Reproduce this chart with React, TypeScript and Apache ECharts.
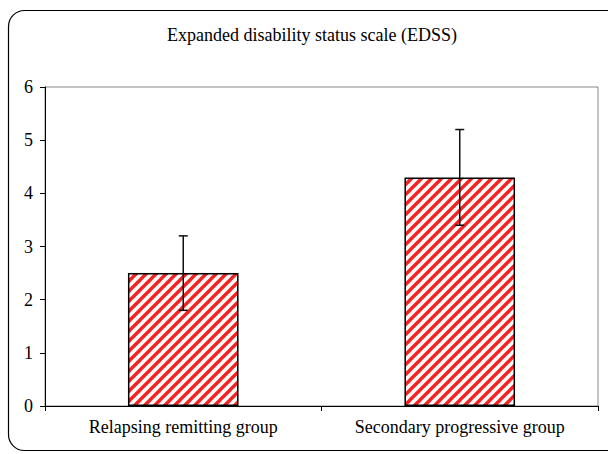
import React, { useEffect, useRef } from "react";
import * as echarts from "echarts";

const categories = ["Relapsing remitting group", "Secondary progressive group"];
const means = [2.5, 4.3];
const errLow = [1.8, 3.4];
const errHigh = [3.2, 5.2];
const yTicks = [0, 1, 2, 3, 4, 5, 6];
const title = "Expanded disability status scale (EDSS)";

function makeStripeTile(): HTMLCanvasElement {
  const s = 10;
  const c = document.createElement("canvas");
  c.width = s;
  c.height = s;
  const ctx = c.getContext("2d")!;
  ctx.fillStyle = "#ffffff";
  ctx.fillRect(0, 0, s, s);
  ctx.strokeStyle = "#f52222";
  ctx.lineWidth = 3.4;
  ctx.lineCap = "square";
  for (const off of [-s, 0, s]) {
    ctx.beginPath();
    ctx.moveTo(off - 2, s + 2);
    ctx.lineTo(off + s + 2, -2);
    ctx.stroke();
  }
  return c;
}

export default function App() {
  const ref = useRef<HTMLDivElement>(null);
  useEffect(() => {
    if (!ref.current) return;
    const chart = echarts.init(ref.current, null, { renderer: "svg" });
    const tile = makeStripeTile();
    const font = "'Liberation Serif', 'Times New Roman', serif";
    chart.setOption({
      animation: false,
      backgroundColor: "#ffffff",
      title: {
        text: title,
        left: 307,
        textAlign: "center",
        top: 21,
        textStyle: { fontFamily: font, fontSize: 18, fontWeight: "normal", color: "#000" },
      },
      graphic: [
        {
          type: "rect",
          shape: { x: 8.5, y: 10.5, width: 620, height: 440, r: 16 },
          style: { fill: "none", stroke: "#000", lineWidth: 1.2 },
          silent: true,
          z: 100,
        },
      ],
      grid: {
        left: 45,
        right: 10,
        top: 87,
        bottom: 48,
        show: true,
        borderColor: "#888",
        borderWidth: 1,
      },
      xAxis: {
        type: "category",
        data: categories,
        boundaryGap: true,
        axisLine: { lineStyle: { color: "#000", width: 1 } },
        axisTick: { show: true, length: 5, lineStyle: { color: "#000" } },
        axisLabel: { fontFamily: font, fontSize: 18, color: "#000", margin: 12 },
      },
      yAxis: {
        type: "value",
        min: 0,
        max: 6,
        interval: 1,
        splitLine: { show: false },
        axisLine: { show: true, lineStyle: { color: "#000", width: 1 } },
        axisTick: { show: true, length: 5, lineStyle: { color: "#000" } },
        axisLabel: {
          fontFamily: font,
          fontSize: 18,
          color: "#000",
          margin: 12,
          formatter: (v: number) => (yTicks.includes(v) ? String(v) : ""),
        },
      },
      series: [
        {
          type: "bar",
          data: means,
          barWidth: "40%",
          itemStyle: {
            color: { image: tile, repeat: "repeat", imageWidth: 10, imageHeight: 10 },
            borderColor: "#000",
            borderWidth: 1.5,
          },
          z: 2,
        },
        {
          type: "custom",
          data: categories.map((_, i) => [i, errLow[i], errHigh[i]]),
          encode: { x: 0, y: [1, 2] },
          z: 5,
          renderItem: (params: any, api: any) => {
            const i = api.value(0);
            const lo = api.coord([i, api.value(1)]);
            const hi = api.coord([i, api.value(2)]);
            const cap = 4.5;
            const style = { stroke: "#111", lineWidth: 1.5 };
            return {
              type: "group",
              children: [
                { type: "line", shape: { x1: lo[0], y1: lo[1], x2: hi[0], y2: hi[1] }, style },
                { type: "line", shape: { x1: hi[0] - cap, y1: hi[1], x2: hi[0] + cap, y2: hi[1] }, style },
                { type: "line", shape: { x1: lo[0] - cap, y1: lo[1], x2: lo[0] + cap, y2: lo[1] }, style },
              ],
            };
          },
        },
      ],
    });
    return () => chart.dispose();
  }, []);
  return (
    <div
      ref={ref}
      style={{ position: "absolute", left: 0, top: 0, width: 608, height: 454 }}
    />
  );
}
